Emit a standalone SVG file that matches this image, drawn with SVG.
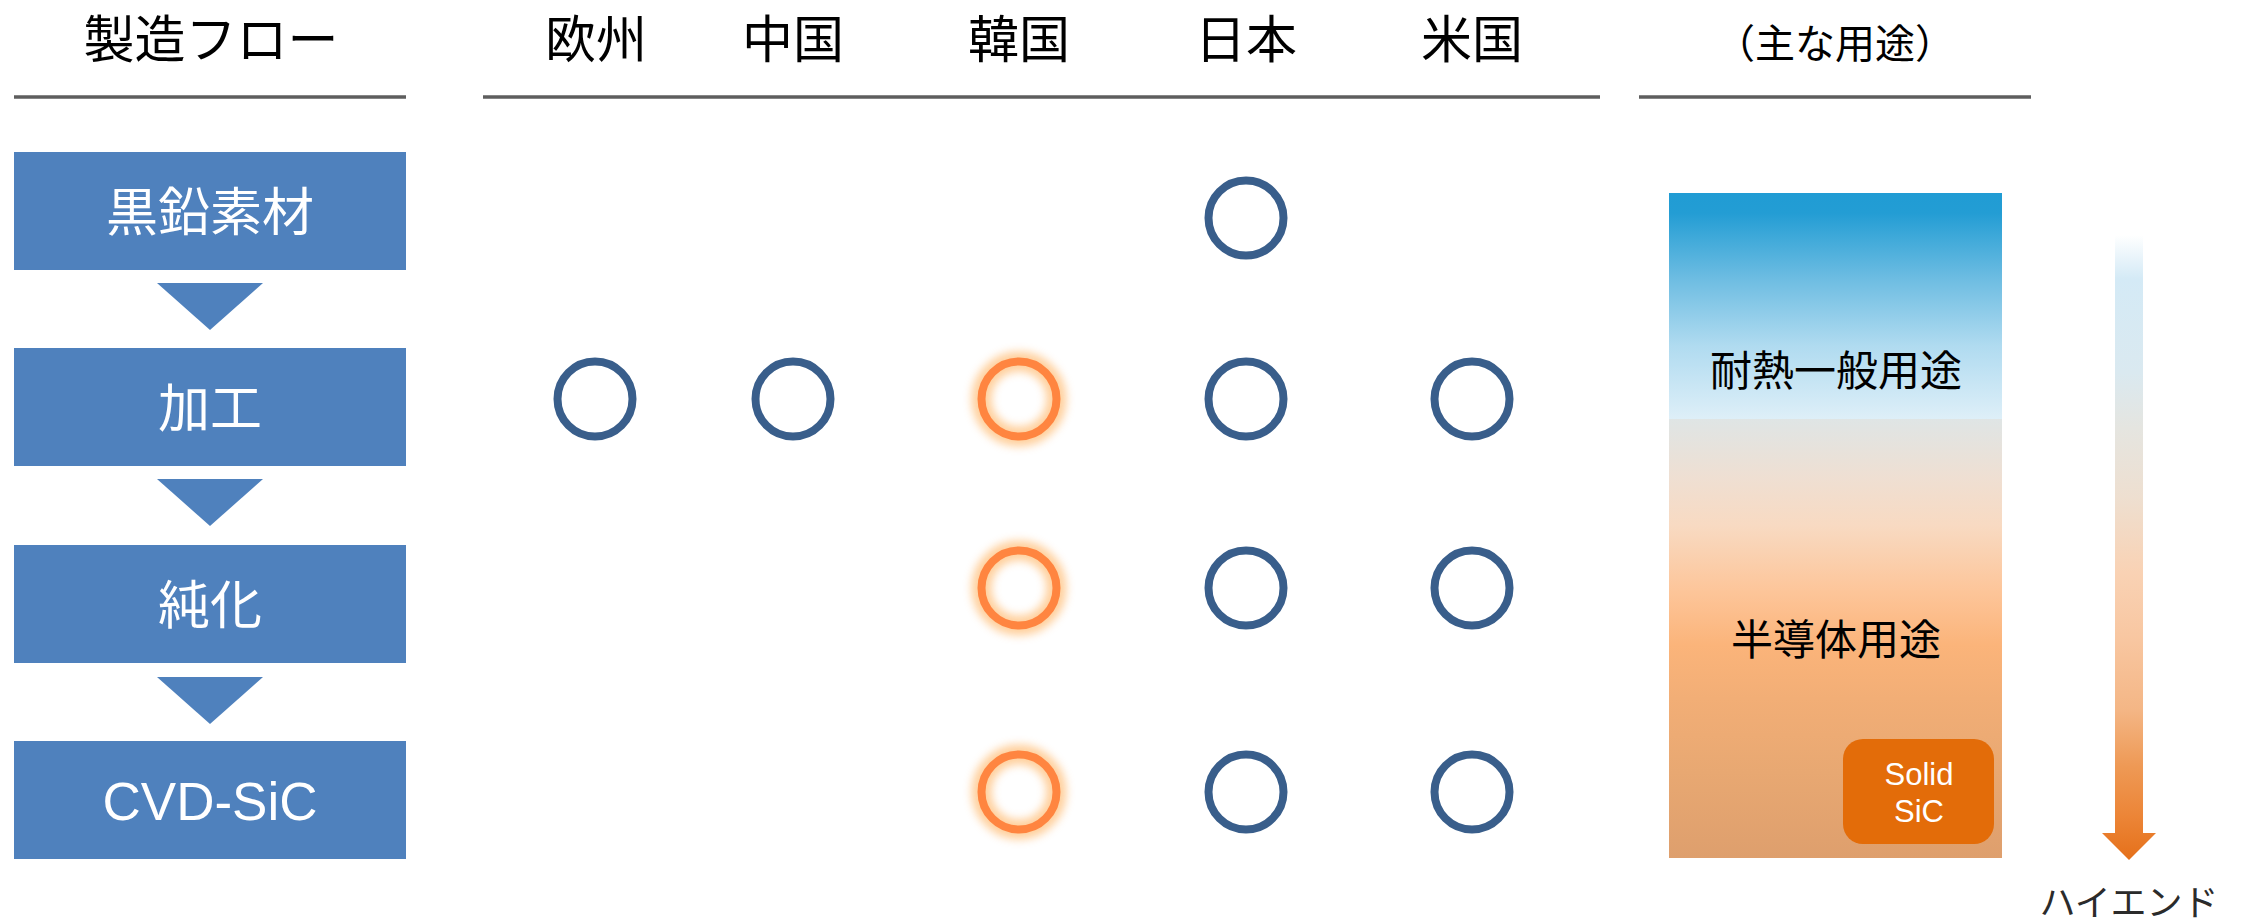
<svg xmlns="http://www.w3.org/2000/svg" width="2242" height="924" viewBox="0 0 2242 924">
<style>
.hdr{font-family:"Noto Sans CJK JP","Noto Sans",sans-serif;font-size:51px;fill:#000;text-anchor:middle}
.box{fill:#4F81BD}
.boxt{font-family:"Noto Sans CJK JP","Noto Sans",sans-serif;font-size:52px;fill:#fff;text-anchor:middle}
.lat{font-family:"Liberation Sans",Arial,sans-serif}
.rule{stroke:#5E5E5E;stroke-width:3.5;fill:none}
.tri{fill:#4F81BD}
.cb{fill:none;stroke:#395E8B;stroke-width:8}
.co{fill:none;stroke:#FF8540;stroke-width:8}
.glow{fill:none;stroke:#FFC88C;stroke-width:20;opacity:0.85;filter:url(#blur)}
.use{font-family:"Noto Sans CJK JP","Noto Sans",sans-serif;font-size:42px;fill:#000;text-anchor:middle}
</style>
<defs>
<filter id="blur" x="-50%" y="-50%" width="200%" height="200%"><feGaussianBlur stdDeviation="4"/></filter>
<linearGradient id="panel" x1="0" y1="0" x2="0" y2="1">
<stop offset="0" stop-color="#209CD4"/>
<stop offset="0.03" stop-color="#239DD4"/>
<stop offset="0.13" stop-color="#6EBDE2"/>
<stop offset="0.23" stop-color="#B0DBF0"/>
<stop offset="0.34" stop-color="#DEEFF8"/>
<stop offset="0.34" stop-color="#DFE5E5"/>
<stop offset="0.43" stop-color="#EFDFD2"/>
<stop offset="0.5" stop-color="#F8DAC2"/>
<stop offset="0.6" stop-color="#FDC599"/>
<stop offset="0.68" stop-color="#FBB47A"/>
<stop offset="0.76" stop-color="#F2AE76"/>
<stop offset="0.87" stop-color="#E8A872"/>
<stop offset="1" stop-color="#DE9F6D"/>
</linearGradient>
<linearGradient id="bar" gradientUnits="userSpaceOnUse" x1="0" y1="235" x2="0" y2="860">
<stop offset="0" stop-color="#FFFFFF"/>
<stop offset="0.07" stop-color="#D4EAF6"/>
<stop offset="0.22" stop-color="#DAE9F0"/>
<stop offset="0.31" stop-color="#E5E5E0"/>
<stop offset="0.42" stop-color="#EEDFD0"/>
<stop offset="0.54" stop-color="#F9D2B4"/>
<stop offset="0.65" stop-color="#F8C6A0"/>
<stop offset="0.76" stop-color="#F4B685"/>
<stop offset="0.85" stop-color="#EE9955"/>
<stop offset="0.93" stop-color="#EC8537"/>
<stop offset="1" stop-color="#E5701A"/>
</linearGradient>
</defs>
<rect width="2242" height="924" fill="#fff"/>

<g id="headers">
<text class="hdr" x="211" y="58">製造フロー</text>
<text class="hdr" x="596" y="58">欧州</text>
<text class="hdr" x="793" y="58">中国</text>
<text class="hdr" x="1019" y="58">韓国</text>
<text class="hdr" x="1246" y="58">日本</text>
<text class="hdr" x="1472" y="58">米国</text>
<text class="hdr" x="1835" y="58" style="font-size:40px">（主な用途）</text>
<line class="rule" x1="14" y1="97" x2="406" y2="97"/>
<line class="rule" x1="483" y1="97" x2="1600" y2="97"/>
<line class="rule" x1="1639" y1="97" x2="2031" y2="97"/>
</g>

<g id="node-graphite">
<rect class="box" x="14" y="152" width="392" height="118"/>
<text class="boxt" x="210" y="231">黒鉛素材</text>
</g>
<g id="node-machining">
<rect class="box" x="14" y="348" width="392" height="118"/>
<text class="boxt" x="210" y="427">加工</text>
</g>
<g id="node-purification">
<rect class="box" x="14" y="545" width="392" height="118"/>
<text class="boxt" x="210" y="624">純化</text>
</g>
<g id="node-cvdsic">
<rect class="box" x="14" y="741" width="392" height="118"/>
<text class="boxt lat" x="210" y="820" style="font-size:53px">CVD-SiC</text>
</g>

<g id="connectors">
<polygon class="tri" points="157,283 263,283 210,330"/>
<polygon class="tri" points="157,479 263,479 210,526"/>
<polygon class="tri" points="157,677 263,677 210,724"/>
</g>

<g id="marks-europe">
<circle class="cb" cx="595" cy="399" r="37.5"/>
</g>
<g id="marks-china">
<circle class="cb" cx="793" cy="399" r="37.5"/>
</g>
<g id="marks-korea">
<circle class="glow" cx="1019" cy="399" r="37.5"/>
<circle class="co" cx="1019" cy="399" r="37.5"/>
<circle class="glow" cx="1019" cy="588" r="37.5"/>
<circle class="co" cx="1019" cy="588" r="37.5"/>
<circle class="glow" cx="1019" cy="792" r="37.5"/>
<circle class="co" cx="1019" cy="792" r="37.5"/>
</g>
<g id="marks-japan">
<circle class="cb" cx="1246" cy="218" r="37.5"/>
<circle class="cb" cx="1246" cy="399" r="37.5"/>
<circle class="cb" cx="1246" cy="588" r="37.5"/>
<circle class="cb" cx="1246" cy="792" r="37.5"/>
</g>
<g id="marks-usa">
<circle class="cb" cx="1472" cy="399" r="37.5"/>
<circle class="cb" cx="1472" cy="588" r="37.5"/>
<circle class="cb" cx="1472" cy="792" r="37.5"/>
</g>

<g id="usage-panel">
<rect x="1669" y="193" width="333" height="665" fill="url(#panel)"/>
<text class="use" x="1836" y="386">耐熱一般用途</text>
<text class="use" x="1836" y="655">半導体用途</text>
</g>
<g id="solid-sic">
<rect x="1843" y="739" width="151" height="105" rx="20" ry="20" fill="#E36C09"/>
<text class="lat" x="1919" y="785" fill="#fff" text-anchor="middle" style="font-size:31px">Solid</text>
<text class="lat" x="1919" y="822" fill="#fff" text-anchor="middle" style="font-size:31px">SiC</text>
</g>

<g id="high-end-arrow">
<path d="M2115,235 H2143 V833 H2156 L2129,860 L2102,833 H2115 Z" fill="url(#bar)"/>
<text x="2129" y="916" text-anchor="middle" style="font-family:'Noto Sans CJK JP','Noto Sans',sans-serif;font-size:36px;fill:#2B2B2B">ハイエンド</text>
</g>
</svg>
